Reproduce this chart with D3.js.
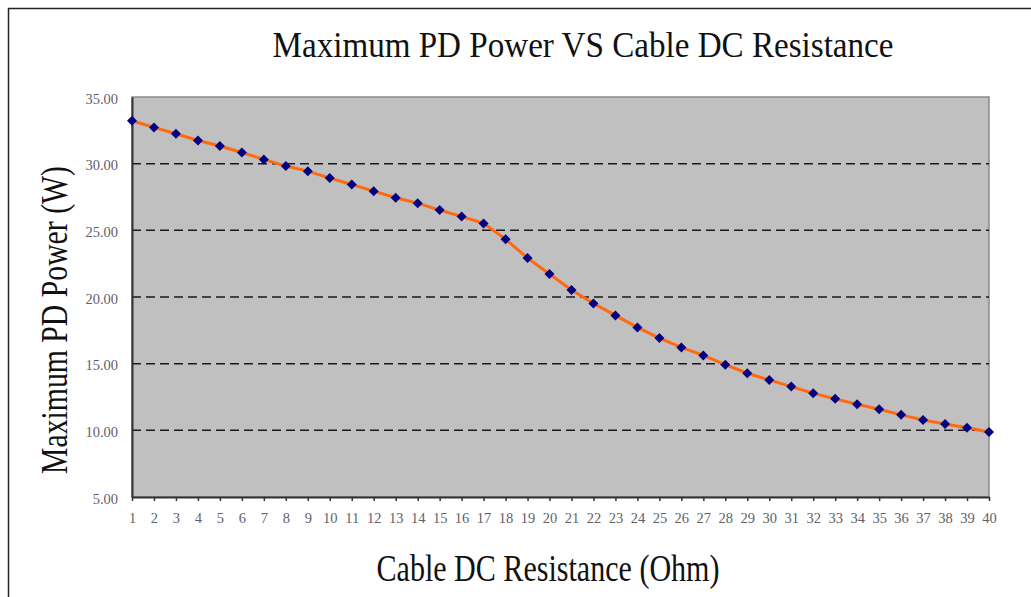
<!DOCTYPE html>
<html>
<head>
<meta charset="utf-8">
<script src="https://cdnjs.cloudflare.com/ajax/libs/d3/7.8.5/d3.min.js"></script>
<style>
  body { margin: 0; background: #fff; }
  svg { display: block; }
</style>
</head>
<body>
<svg></svg>
<script>
// cable resistance (ohm) on x, max PD power (W) on y
let resistance = d3.range(1, 41)
let power = [33.22, 32.72, 32.24, 31.74, 31.32, 30.84, 30.32, 29.82, 29.44, 28.92,
             28.44, 27.94, 27.44, 27.04, 26.52, 26.04, 25.52, 24.34, 22.92, 21.72,
             20.52, 19.52, 18.62, 17.72, 16.92, 16.22, 15.62, 14.92, 14.28, 13.78,
             13.28, 12.78, 12.36, 11.96, 11.58, 11.16, 10.78, 10.48, 10.2, 9.88]
let yTicks = [5, 10, 15, 20, 25, 30, 35]
let gridTicks = [10, 15, 20, 25, 30]

let title = "Maximum PD Power VS Cable DC Resistance"
let xTitle = "Cable DC Resistance (Ohm)"
let yTitle = "Maximum PD Power (W)"

let width = 1031
let height = 597
let plotLeft = 132, plotRight = 989, plotTop = 97, plotBottom = 497

let serif = "'Liberation Serif', 'DejaVu Serif', serif"
let tickColor = "#5f5f6b"

let svg = d3.select('svg').attr("width", width).attr("height", height)

let xScale = d3.scaleLinear().domain([1, 40]).range([plotLeft, plotRight])
let yScale = d3.scaleLinear().domain([5, 35]).range([plotBottom, plotTop])

let drawFrame = () => {
    svg.append("rect")
        .attr("x", 8.5).attr("y", 8.5)
        .attr("width", width + 20).attr("height", height + 20)
        .attr("fill", "none").attr("stroke", "#222").attr("stroke-width", 1.5)

    svg.append("rect")
        .attr("x", plotLeft).attr("y", plotTop)
        .attr("width", plotRight - plotLeft).attr("height", plotBottom - plotTop)
        .attr("fill", "#c0c0c0").attr("stroke", "#8a8a8a").attr("stroke-width", 1.5)
}

let drawGrid = () => {
    svg.append("g").selectAll("line")
        .data(gridTicks)
        .enter()
        .append("line")
        .attr("x1", plotLeft).attr("x2", plotRight)
        .attr("y1", d => yScale(d)).attr("y2", d => yScale(d))
        .attr("stroke", "#1a1a1a").attr("stroke-width", 1.5)
        .attr("stroke-dasharray", "9,5")
}

let drawAxes = () => {
    let xAxis = d3.axisBottom(xScale).tickValues(resistance).tickSize(4).tickSizeOuter(0).tickPadding(12)
    let gx = svg.append("g").attr("id", "x-axis")
        .attr("transform", "translate(0," + plotBottom + ")")
        .call(xAxis)
    gx.select(".domain").attr("stroke", "#333").attr("stroke-width", 2)
    gx.selectAll(".tick line").attr("stroke", "#333").attr("stroke-width", 1.5)
    gx.selectAll(".tick text").attr("fill", tickColor)
        .style("font-family", serif).style("font-size", "14.5px")

    let yAxis = d3.axisLeft(yScale).tickValues(yTicks).tickSize(0).tickPadding(14)
        .tickFormat(d3.format(".2f"))
    let gy = svg.append("g").attr("id", "y-axis")
        .attr("transform", "translate(" + plotLeft + ",0)")
        .call(yAxis)
    gy.select(".domain").attr("stroke", "#333").attr("stroke-width", 2)
    gy.selectAll(".tick text").attr("fill", tickColor).attr("dy", "0.42em")
        .style("font-family", serif).style("font-size", "14.5px")
}

let drawLine = () => {
    let line = d3.line()
        .x((d, i) => xScale(resistance[i]))
        .y(d => yScale(d))

    svg.append("path")
        .datum(power)
        .attr("d", line)
        .attr("fill", "none")
        .attr("stroke", "#ff6a10")
        .attr("stroke-width", 3)

    svg.selectAll(".dot")
        .data(power)
        .enter()
        .append("path")
        .attr("class", "dot")
        .attr("d", "M0,-5L5,0L0,5L-5,0Z")
        .attr("transform", (d, i) => "translate(" + xScale(resistance[i]) + "," + yScale(d) + ")")
        .attr("fill", "#000080")
}

// the original uses a narrow serif, so squeeze the titles to its width
let drawTitles = () => {
    svg.append("text")
        .attr("x", 583).attr("y", 57)
        .attr("text-anchor", "middle")
        .attr("textLength", 621).attr("lengthAdjust", "spacingAndGlyphs")
        .style("font-family", serif).style("font-size", "36px").attr("fill", "#111")
        .text(title)

    svg.append("text")
        .attr("x", 548).attr("y", 581)
        .attr("text-anchor", "middle")
        .attr("textLength", 343).attr("lengthAdjust", "spacingAndGlyphs")
        .style("font-family", serif).style("font-size", "37px").attr("fill", "#111")
        .text(xTitle)

    svg.append("text")
        .attr("transform", "translate(67,320) rotate(-90)")
        .attr("text-anchor", "middle")
        .attr("textLength", 308).attr("lengthAdjust", "spacingAndGlyphs")
        .style("font-family", serif).style("font-size", "38px").attr("fill", "#111")
        .text(yTitle)
}

drawFrame()
drawGrid()
drawAxes()
drawLine()
drawTitles()
</script>
</body>
</html>
